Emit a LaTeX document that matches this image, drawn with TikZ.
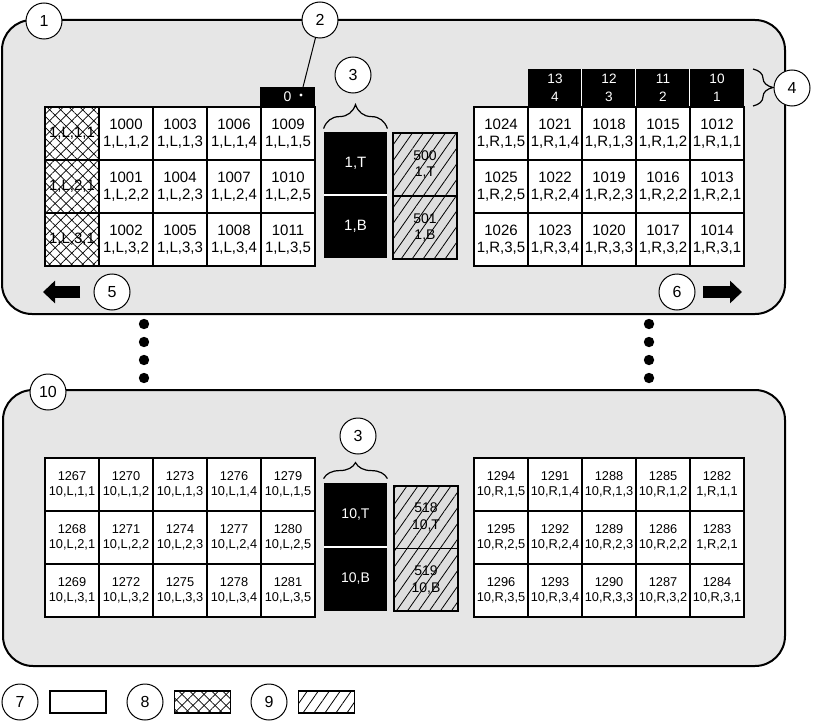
\documentclass[tikz,border=0pt]{standalone}
\usepackage{fontspec}
\setmainfont{Liberation Sans}
\usepackage{tikz}
\usetikzlibrary{arrows.meta,patterns.meta,decorations.pathreplacing}
\definecolor{bkpanelgray}{HTML}{E6E6E6}
\definecolor{bkhatchgray}{HTML}{DEDEDE}
\newcommand{\bkbigfont}{\fontsize{7.5}{8.7}\selectfont}
\newcommand{\bksmallfont}{\fontsize{6.4}{7.6}\selectfont}
\tikzset{
  bkpanel/.style={draw=black, fill=bkpanelgray, line width=1pt, rounded corners=15pt},
  bkcell/.style={draw=black, fill=white, line width=0.75pt, minimum width=27pt,
    minimum height=26.5pt, inner sep=0pt, align=center, font=\bkbigfont},
  bkcellsmall/.style={bkcell, font=\bksmallfont},
  bkcross/.style={bkcell,
    postaction={pattern={Lines[angle=45,distance=3.9pt,line width=0.35pt]}},
    postaction={pattern={Lines[angle=-45,distance=3.9pt,line width=0.35pt]}}},
  bkhatch/.style={draw=black, fill=bkhatchgray, line width=0.6pt, minimum width=32pt,
    minimum height=31.5pt, inner sep=0pt, align=center, font=\fontsize{7}{8.4}\selectfont,
    postaction={pattern={Lines[angle=55,distance=4.5pt,line width=0.4pt]}}},
  bkblack/.style={fill=black, text=white, minimum width=31.5pt, minimum height=31.5pt,
    inner sep=0pt, font=\bkbigfont},
  bkhead/.style={fill=black, text=white, minimum width=27pt, minimum height=18.5pt,
    inner sep=0pt, align=center, font=\fontsize{6.8}{9}\selectfont},
  bkzero/.style={fill=black, text=white, minimum width=27.5pt, minimum height=10pt,
    inner sep=0pt, font=\fontsize{7}{8}\selectfont},
  bkcallout/.style={circle, draw=black, fill=white, line width=0.5pt, minimum size=18pt,
    inner sep=0pt, font=\fontsize{8}{9}\selectfont},
  bkbrace/.style={decorate, decoration={brace, amplitude=#1}, line width=0.6pt},
  bkarrow/.style={line width=6pt, -{Triangle[length=6pt,width=11pt]}},
  bkleader/.style={line width=0.5pt},
  bkswatch/.style={draw=black, fill=white, line width=0.75pt, minimum width=28pt,
    minimum height=11pt, inner sep=0pt}
}
\begin{document}
\begin{tikzpicture}[x=0.5pt,y=-0.5pt]
  \useasboundingbox (0,0) rectangle (813,722);
  \draw[bkpanel] (2,20) rectangle (785,314);
  \draw[bkpanel] (3,390) rectangle (785,666);

  \foreach \r in {1,2,3} {
    \pgfmathsetmacro{\yy}{107+26.5+53*(\r-1)}
    \node[bkcross] (tl-\r-1) at (72,\yy) {1,L,\r,1};
    \foreach \c in {2,...,5} {
      \pgfmathtruncatemacro{\num}{1000+3*(\c-2)+\r-1}
      \node[bkcell] (tl-\r-\c) at ({72+54*(\c-1)},\yy) {\num\\1,L,\r,\c};
    }
    \foreach \i in {0,...,4} {
      \pgfmathtruncatemacro{\num}{1012+3*(4-\i)+\r-1}
      \pgfmathtruncatemacro{\pos}{5-\i}
      \node[bkcell] (tr-\r-\pos) at ({501+54*\i},\yy) {\num\\1,R,\r,\pos};
    }
  }
  \foreach \r in {1,2,3} {
    \pgfmathsetmacro{\yy}{458+26.5+53*(\r-1)}
    \foreach \c in {1,...,5} {
      \pgfmathtruncatemacro{\num}{1267+3*(\c-1)+\r-1}
      \node[bkcellsmall] (bl-\r-\c) at ({72+54*(\c-1)},\yy) {\num\\10,L,\r,\c};
    }
    \foreach \i in {0,...,4} {
      \pgfmathtruncatemacro{\num}{1282+3*(4-\i)+\r-1}
      \pgfmathtruncatemacro{\pos}{5-\i}
      \ifnum\i=4\relax \ifnum\r<3\relax \def\pre{1}\else\def\pre{10}\fi \else\def\pre{10}\fi
      \node[bkcellsmall] (br-\r-\pos) at ({501+54*\i},\yy) {\num\\\pre,R,\r,\pos};
    }
  }

  \node[bkzero] (zero) at (287.5,97) {0};
  \foreach \i/\a/\b in {0/13/4,1/12/3,2/11/2,3/10/1} {
    \node[bkhead] (hd-\i) at ({555+54*\i},87.5) {\a\\\b};
  }
  \foreach \i in {1,2,3} {
    \draw[white, line width=0.8pt] (hd-\i.north west) -- (hd-\i.south west);
  }

  \node[bkblack] (topT) at (355.5,163.5) {1,T};
  \node[bkblack] (topB) at (355.5,226.5) {1,B};
  \draw[white, line width=1pt] (topT.south west) -- (topT.south east);
  \node[bkhatch] (topHT) at (425,164.5) {500\\1,T};
  \node[bkhatch] (topHB) at (425,227.5) {501\\1,B};

  \node[bkblack, minimum height=32pt, font=\fontsize{7}{8.4}\selectfont] (botT) at (355.5,515) {10,T};
  \node[bkblack, minimum height=32pt, font=\fontsize{7}{8.4}\selectfont] (botB) at (355.5,579) {10,B};
  \draw[white, line width=1pt] (botT.south west) -- (botT.south east);
  \node[bkhatch, minimum height=31.25pt] (botHT) at (426,517.25) {518\\10,T};
  \node[bkhatch, minimum height=31.25pt] (botHB) at (426,579.75) {519\\10,B};

  \draw[bkbrace=12pt] (topT.north west) ++(0,-3) -- ([yshift=1.5pt]topT.north east);
  \draw[bkbrace=8pt] ([yshift=2pt]botT.north west) -- ([yshift=2pt]botT.north east);
  \draw[bkbrace=10pt] (753,69) -- (753,106);

  \node[bkcallout] (c1) at (44,21) {1};
  \node[bkcallout] (c2) at (320,20) {2};
  \node[bkcallout] (c3) at (353,75) {3};
  \node[bkcallout] (c4) at (792,88) {4};
  \node[bkcallout] (c5) at (112,292) {5};
  \node[bkcallout] (c6) at (677,292) {6};
  \node[bkcallout] (c10) at (48,392) {10};
  \node[bkcallout] (c3b) at (358,436) {3};

  \coordinate (zerotip) at (301,95);
  \draw[bkleader] (c2) -- (zerotip);
  \fill[white] (zerotip) circle[radius=0.8pt];

  \coordinate (ltail) at (80,292);
  \coordinate (ltip) at (43,292);
  \coordinate (rtail) at (703,292);
  \coordinate (rtip) at (742,292);
  \draw[bkarrow] (ltail) -- (ltip);
  \draw[bkarrow] (rtail) -- (rtip);

  \foreach \y in {324,342,360,378} {
    \fill (144,\y) circle[radius=2.6pt];
    \fill (649,\y) circle[radius=2.6pt];
  }

  \node[bkcallout] (c7) at (20,702) {7};
  \node[bkswatch] (lg7) at (78,702) {};
  \node[bkcallout] (c8) at (145,702) {8};
  \node[bkswatch,
    postaction={pattern={Lines[angle=45,distance=3.9pt,line width=0.35pt]}},
    postaction={pattern={Lines[angle=-45,distance=3.9pt,line width=0.35pt]}}] (lg8) at (202.5,702) {};
  \node[bkcallout] (c9) at (269,702) {9};
  \node[bkswatch,
    postaction={pattern={Lines[angle=55,distance=4.5pt,line width=0.4pt]}}] (lg9) at (326.5,702) {};
\end{tikzpicture}
\end{document}
